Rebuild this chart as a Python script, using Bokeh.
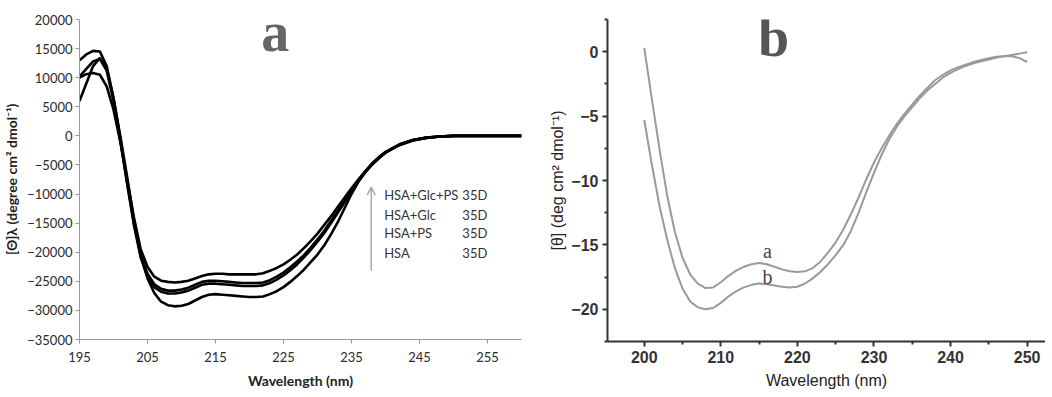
from bokeh.plotting import figure
from bokeh.layouts import row
from bokeh.models import FixedTicker, Label, Arrow, OpenHead, Range1d
from bokeh.embed import file_html
from bokeh.resources import INLINE

# ---------------- Panel a data ----------------
wl_a = list(range(195, 241)) + [242, 244, 246, 248, 250, 255, 260]

hsa_glc_ps = [10000, 10600, 10800, 10500, 8500, 4500, -1000, -7500, -14000, -19500,
              -22500, -24200, -24900, -25100, -25200, -25100, -24900, -24500, -24100, -23800,
              -23700, -23700, -23800, -23800, -23800, -23800, -23800, -23600, -23200, -22700,
              -22100, -21300, -20400, -19300, -18100, -16800, -15300, -13800, -12200, -10600,
              -9000, -7500, -6100, -4800, -3700, -2800, -1500, -700, -300, -100, 0, 0, 0]
hsa_glc = [13000, 14000, 14600, 14500, 12000, 6500, -500, -8000, -15000, -20500,
           -23700, -25500, -26300, -26600, -26600, -26400, -26100, -25600, -25100, -24900,
           -24900, -25000, -25100, -25200, -25300, -25300, -25300, -25200, -24800, -24200,
           -23500, -22600, -21600, -20500, -19200, -17800, -16300, -14600, -12900, -11100,
           -9300, -7700, -6200, -4900, -3800, -2900, -1600, -800, -350, -100, 0, 0, 0]
hsa_ps = [10200, 11500, 12800, 13200, 11200, 6000, -800, -8200, -15300, -20900,
          -24200, -26000, -26800, -27100, -27100, -26900, -26600, -26100, -25600, -25400,
          -25400, -25500, -25600, -25700, -25800, -25800, -25800, -25700, -25300, -24700,
          -24000, -23100, -22100, -20900, -19600, -18200, -16700, -15000, -13200, -11400,
          -9600, -7900, -6300, -5000, -3900, -2900, -1600, -800, -350, -100, 0, 0, 0]
hsa = [6000, 9000, 12000, 13400, 11500, 6500, 0, -7000, -14500, -20500,
       -24500, -27000, -28500, -29100, -29300, -29200, -28900, -28300, -27700, -27300,
       -27200, -27300, -27400, -27500, -27600, -27700, -27700, -27600, -27200, -26700,
       -26000, -25100, -24100, -23000, -21700, -20400, -18800, -16900, -14800, -12400,
       -10000, -7900, -6200, -4800, -3700, -2800, -1500, -700, -300, -100, 0, 0, 0]

legend_names = ["HSA+Glc+PS", "HSA+Glc", "HSA+PS", "HSA"]
legend_tag = "35D"
ticks_a_x = [195, 205, 215, 225, 235, 245, 255]
ticks_a_y = list(range(-35000, 20001, 5000))

# ---------------- Panel b data ----------------
wl_b = list(range(200, 251))
curve_a = [0.3, -3.7, -7.6, -11.2, -14.0, -16.0, -17.3, -18.0, -18.35, -18.3,
           -17.9, -17.4, -17.0, -16.7, -16.5, -16.4, -16.5, -16.7, -16.9, -17.05,
           -17.1, -17.05, -16.8, -16.3, -15.6, -14.8, -13.8, -12.6, -11.3, -9.9,
           -8.6, -7.5, -6.5, -5.6, -4.8, -4.1, -3.4, -2.8, -2.2, -1.8,
           -1.45, -1.2, -1.0, -0.8, -0.65, -0.5, -0.4, -0.35, -0.35, -0.5, -0.8]
curve_b = [-5.3, -8.8, -12.0, -14.6, -16.8, -18.4, -19.4, -19.85, -20.0, -19.9,
           -19.5, -19.0, -18.6, -18.3, -18.1, -18.0, -18.05, -18.15, -18.25, -18.3,
           -18.25, -18.0, -17.6, -17.1, -16.5, -15.8, -15.0, -13.9, -12.5, -10.9,
           -9.4, -8.0, -6.8, -5.8, -5.0, -4.3, -3.6, -3.0, -2.5, -2.0,
           -1.65, -1.35, -1.1, -0.9, -0.75, -0.6, -0.45, -0.35, -0.25, -0.15, -0.05]
ticks_b_x = [200, 210, 220, 230, 240, 250]
minor_b_x = [195, 205, 215, 225, 235, 245, 255]
ticks_b_y = [-20, -15, -10, -5, 0]
minor_b_y = [-22.5, -17.5, -12.5, -7.5, -2.5, 2.5]

FA = "Lato"
FB = "Liberation Sans"
FS = "Liberation Serif"

# ---------------- Panel a ----------------
pa = figure(frame_width=442, frame_height=320, output_backend="svg", toolbar_location=None,
            x_range=Range1d(195, 260), y_range=Range1d(-35000, 20000),
            min_border_left=73, min_border_right=25, min_border_top=19,
            min_border_bottom=40)
pa.outline_line_color = None
pa.grid.visible = False
for ser in [hsa_glc_ps, hsa_glc, hsa_ps, hsa]:
    pa.line(wl_a, ser, line_color="black", line_width=2.6)

pa.xaxis.ticker = FixedTicker(ticks=ticks_a_x)
pa.yaxis.ticker = FixedTicker(ticks=ticks_a_y)
for ax in (pa.xaxis, pa.yaxis):
    ax.axis_line_color = "#999999"
    ax.major_tick_line_color = "#999999"
    ax.major_tick_in = 0
    ax.major_tick_out = 4
    ax.minor_tick_line_color = None
    ax.major_label_text_font = FA
    ax.major_label_text_font_size = "13px"
    ax.major_label_text_color = "#2a2a2a"
    ax.axis_label_text_font = FA
    ax.axis_label_text_font_style = "bold"
    ax.axis_label_text_font_size = "14px"
    ax.axis_label_text_color = "#222222"
pa.xaxis.axis_label = "Wavelength (nm)"
pa.yaxis.axis_label = "[Θ]λ (degree cm² dmol⁻¹)"
pa.xaxis.major_label_standoff = 8
pa.xaxis.axis_label_standoff = 7
pa.yaxis.major_label_standoff = 3
pa.yaxis.axis_label_standoff = 4

pa.add_layout(Label(x=223.8, y=17900, text="a", text_font=FS, text_font_style="bold",
                    text_font_size="56px", text_color="#666666", text_align="center",
                    text_baseline="middle"))
pa.add_layout(Arrow(x_start=237.9, y_start=-23200, x_end=237.9, y_end=-8800,
                    line_color="#aaaaaa", line_width=1.5,
                    end=OpenHead(size=8, line_color="#aaaaaa", line_width=1.5)))
leg_y = [-10100, -13600, -16700, -20100]
for name, yy in zip(legend_names, leg_y):
    pa.add_layout(Label(x=239.8, y=yy, text=name, text_font=FA, text_font_size="13px",
                        text_color="#333333", text_baseline="middle"))
    pa.add_layout(Label(x=251.3, y=yy, text=legend_tag, text_font=FA, text_font_size="13px",
                        text_color="#333333", text_baseline="middle"))

# ---------------- Panel b ----------------
pb = figure(frame_width=438, frame_height=322, output_backend="svg", toolbar_location=None,
            x_range=Range1d(195.2, 252.4), y_range=Range1d(-22.5, 2.5),
            min_border_left=58, min_border_right=0, min_border_top=19,
            min_border_bottom=40)
pb.outline_line_color = None
pb.grid.visible = False
pb.line(wl_b, curve_a, line_color="#9a9a9a", line_width=2)
pb.line(wl_b, curve_b, line_color="#9a9a9a", line_width=2)
pb.xaxis.ticker = FixedTicker(ticks=ticks_b_x, minor_ticks=minor_b_x)
pb.yaxis.ticker = FixedTicker(ticks=ticks_b_y, minor_ticks=minor_b_y)
for ax in (pb.xaxis, pb.yaxis):
    ax.axis_line_color = "#333333"
    ax.axis_line_width = 2
    ax.major_tick_line_color = "#333333"
    ax.major_tick_line_width = 2
    ax.minor_tick_line_color = "#333333"
    ax.minor_tick_line_width = 2
    ax.major_tick_in = 0
    ax.major_tick_out = 5
    ax.minor_tick_in = 0
    ax.minor_tick_out = 3
    ax.major_label_text_font = FB
    ax.major_label_text_font_size = "16px"
    ax.major_label_text_font_style = "bold"
    ax.major_label_text_color = "#333333"
    ax.axis_label_text_font = FB
    ax.axis_label_text_font_style = "normal"
    ax.axis_label_text_font_size = "16px"
    ax.axis_label_text_color = "#222222"
pb.xaxis.axis_label = "Wavelength (nm)"
pb.yaxis.axis_label = "[θ] (deg cm² dmol⁻¹)"
pb.xaxis.major_label_standoff = 4
pb.xaxis.axis_label_standoff = 6
pb.yaxis.major_label_standoff = 4
pb.yaxis.axis_label_standoff = 2

pb.add_layout(Label(x=216.9, y=1.13, text="b", text_font=FS, text_font_style="bold",
                    text_font_size="56px", text_color="#555555", text_align="center",
                    text_baseline="middle"))
pb.add_layout(Label(x=216.1, y=-15.47, text="a", text_font=FS, text_font_size="20px",
                    text_color="#444444", text_align="center", text_baseline="middle"))
pb.add_layout(Label(x=216.1, y=-17.5, text="b", text_font=FS, text_font_size="20px",
                    text_color="#444444", text_align="center", text_baseline="middle"))

layout = row(pa, pb)
open("out.html", "w").write(file_html(layout, INLINE))
